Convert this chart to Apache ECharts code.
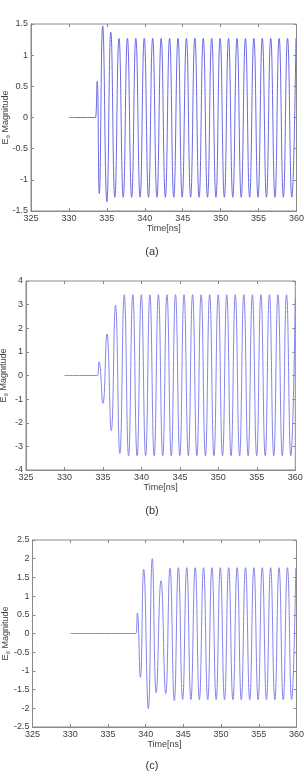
<!DOCTYPE html>
<html>
<head>
<meta charset="utf-8">
<script src="https://cdn.jsdelivr.net/npm/echarts@6/dist/echarts.min.js"></script>
<style>
  html, body { margin: 0; padding: 0; background: #fff; }
  #chart { width: 304px; height: 776px; }
</style>
</head>
<body>
<div id="chart"></div>
<script>
// x ticks shared by the three panels
const timeTicks = { min: 325, max: 360, interval: 5 };

// panel (a): extrema
const timeA = [330, 333.4, 333.5, 333.72, 334.0, 334.45, 335.0, 335.52, 336.05, 336.6,
  337.16, 337.71, 338.27, 338.82, 339.38, 339.93, 340.49, 341.04, 341.6, 342.16,
  342.71, 343.27, 343.82, 344.38, 344.93, 345.49, 346.04, 346.6, 347.16, 347.71,
  348.27, 348.82, 349.38, 349.93, 350.49, 351.04, 351.6, 352.16, 352.71, 353.27,
  353.82, 354.38, 354.93, 355.49, 356.04, 356.6, 357.16, 357.71, 358.27, 358.82,
  359.38, 359.93];
const valueA = [0, 0, 0, 0.58, -1.22, 1.47, -1.35, 1.37, -1.28, 1.27,
  -1.28, 1.27, -1.28, 1.27, -1.28, 1.27, -1.28, 1.27, -1.28, 1.27,
  -1.28, 1.27, -1.28, 1.27, -1.28, 1.27, -1.28, 1.27, -1.28, 1.27,
  -1.28, 1.27, -1.28, 1.27, -1.28, 1.27, -1.28, 1.27, -1.28, 1.27,
  -1.28, 1.27, -1.28, 1.27, -1.28, 1.27, -1.28, 1.27, -1.28, 1.27,
  -1.28, 1.27];

// panel (b)
const timeB = [330, 334.2, 334.3, 334.5, 335.0, 335.52, 336.08, 336.63, 337.2, 337.77,
  338.33, 338.88, 339.44, 339.99, 340.55, 341.1, 341.66, 342.21, 342.77, 343.32,
  343.88, 344.43, 344.99, 345.54, 346.1, 346.65, 347.21, 347.76, 348.32, 348.87,
  349.43, 349.98, 350.54, 351.09, 351.65, 352.2, 352.76, 353.31, 353.87, 354.42,
  354.98, 355.53, 356.09, 356.64, 357.2, 357.75, 358.31, 358.86, 359.42, 360];
const valueB = [0, 0, 0, 0.58, -1.18, 1.76, -2.34, 2.98, -3.3, 3.42,
  -3.4, 3.42, -3.4, 3.42, -3.4, 3.42, -3.4, 3.42, -3.4, 3.42,
  -3.4, 3.42, -3.4, 3.42, -3.4, 3.42, -3.4, 3.42, -3.4, 3.42,
  -3.4, 3.42, -3.4, 3.42, -3.4, 3.42, -3.4, 3.42, -3.4, 3.42,
  -3.4, 3.42, -3.4, 3.42, -3.4, 3.42, -3.4, 3.42, -3.4, 3.3];

// panel (c)
const timeC = [330, 338.6, 338.72, 338.9, 339.3, 339.74, 340.36, 340.88, 341.4, 342.04,
  342.66, 343.23, 343.8, 344.34, 344.9, 345.45, 346.0, 346.57, 347.12, 347.68,
  348.23, 348.79, 349.35, 349.9, 350.46, 351.01, 351.57, 352.13, 352.68, 353.24,
  353.8, 354.35, 354.91, 355.46, 356.02, 356.57, 357.13, 357.69, 358.24, 358.8,
  359.35, 359.91];
const valueC = [0, 0, 0, 0.55, -1.17, 1.72, -2.01, 2.0, -1.58, 1.41,
  -1.61, 1.75, -1.79, 1.76, -1.77, 1.76, -1.77, 1.76, -1.77, 1.76,
  -1.77, 1.76, -1.77, 1.76, -1.77, 1.76, -1.77, 1.76, -1.77, 1.76,
  -1.77, 1.76, -1.77, 1.76, -1.77, 1.76, -1.77, 1.76, -1.77, 1.76,
  -1.77, 1.76];

const yTicksA = { min: -1.5, max: 1.5, interval: 0.5 };
const yTicksB = { min: -4, max: 4, interval: 1 };
const yTicksC = { min: -2.5, max: 2.5, interval: 0.5 };
const panelLabels = ['(a)', '(b)', '(c)'];

const font = 'Liberation Sans, Arial, sans-serif';
const axisGray = '#8a8a8a';
const labelGray = '#404040';

function pairs(xs, ys) {
  return xs.map(function (x, i) { return [x, ys[i]]; });
}

const grids = [
  { left: 31, right: 7.5, top: 24, height: 187 },
  { left: 26, right: 8.7, top: 281, height: 189 },
  { left: 32.5, right: 7.5, top: 540, height: 187 }
];
const yTicks = [yTicksA, yTicksB, yTicksC];
const nameGaps = [20, 17, 21];
const lineColors = ['#6a6ae6', '#8585ec', '#8585ec'];
const seriesData = [pairs(timeA, valueA), pairs(timeB, valueB), pairs(timeC, valueC)];

const xAxes = [];
const yAxes = [];
grids.forEach(function (g, i) {
  g.show = true;
  g.borderColor = axisGray;
  g.borderWidth = 1;
  g.containLabel = false;
  g.outerBoundsMode = 'none';
  xAxes.push({
    gridIndex: i,
    type: 'value',
    min: timeTicks.min, max: timeTicks.max, interval: timeTicks.interval,
    name: 'Time[ns]',
    nameLocation: 'middle',
    nameGap: 13,
    nameTextStyle: { fontFamily: font, fontSize: 9, color: labelGray },
    axisLine: { onZero: false, lineStyle: { color: axisGray } },
    axisTick: { inside: true, length: 3, lineStyle: { color: axisGray } },
    axisLabel: { fontFamily: font, fontSize: 9, color: labelGray, margin: 3 },
    splitLine: { show: false }
  });
  yAxes.push({
    gridIndex: i,
    type: 'value',
    min: yTicks[i].min, max: yTicks[i].max, interval: yTicks[i].interval,
    name: '{e|E}{s|θ}{m| Magnitude}',
    nameLocation: 'middle',
    nameGap: nameGaps[i],
    nameRotate: 90,
    nameMoveOverlap: false,
    nameTextStyle: {
      fontFamily: font, fontSize: 9, color: labelGray,
      rich: {
        e: { fontFamily: font, fontSize: 9, color: labelGray },
        s: { fontFamily: font, fontSize: 6, color: labelGray, padding: [5, 0, 0, 0] },
        m: { fontFamily: font, fontSize: 9, color: labelGray }
      }
    },
    axisLine: { lineStyle: { color: axisGray } },
    axisTick: { inside: true, length: 3, lineStyle: { color: axisGray } },
    axisLabel: { fontFamily: font, fontSize: 9, color: labelGray, margin: 3 },
    splitLine: { show: false }
  });
});
// tick marks on the top and right edges of each box
grids.forEach(function (g, i) {
  xAxes.push({
    gridIndex: i, type: 'value', position: 'top',
    min: timeTicks.min, max: timeTicks.max, interval: timeTicks.interval,
    axisLine: { show: false, onZero: false },
    axisTick: { inside: true, length: 3, lineStyle: { color: axisGray } },
    axisLabel: { show: false },
    splitLine: { show: false }
  });
  yAxes.push({
    gridIndex: i, type: 'value', position: 'right',
    min: yTicks[i].min, max: yTicks[i].max, interval: yTicks[i].interval,
    axisLine: { show: false },
    axisTick: { inside: true, length: 3, lineStyle: { color: axisGray } },
    axisLabel: { show: false },
    splitLine: { show: false }
  });
});

const chart = echarts.init(document.getElementById('chart'));
chart.setOption({
  animation: false,
  backgroundColor: '#fff',
  title: [
    { text: panelLabels[0], left: 'center', top: 246 },
    { text: panelLabels[1], left: 'center', top: 505 },
    { text: panelLabels[2], left: 'center', top: 760 }
  ].map(function (t) {
    t.textStyle = { fontFamily: font, fontSize: 11, fontWeight: 'normal', color: '#333' };
    t.padding = 0;
    return t;
  }),
  grid: grids,
  xAxis: xAxes,
  yAxis: yAxes,
  series: seriesData.map(function (d, i) {
    return {
      type: 'line',
      xAxisIndex: i,
      yAxisIndex: i,
      data: d,
      smooth: true,
      showSymbol: false,
      symbol: 'none',
      lineStyle: { color: lineColors[i], width: 1 }
    };
  })
});
</script>
</body>
</html>
